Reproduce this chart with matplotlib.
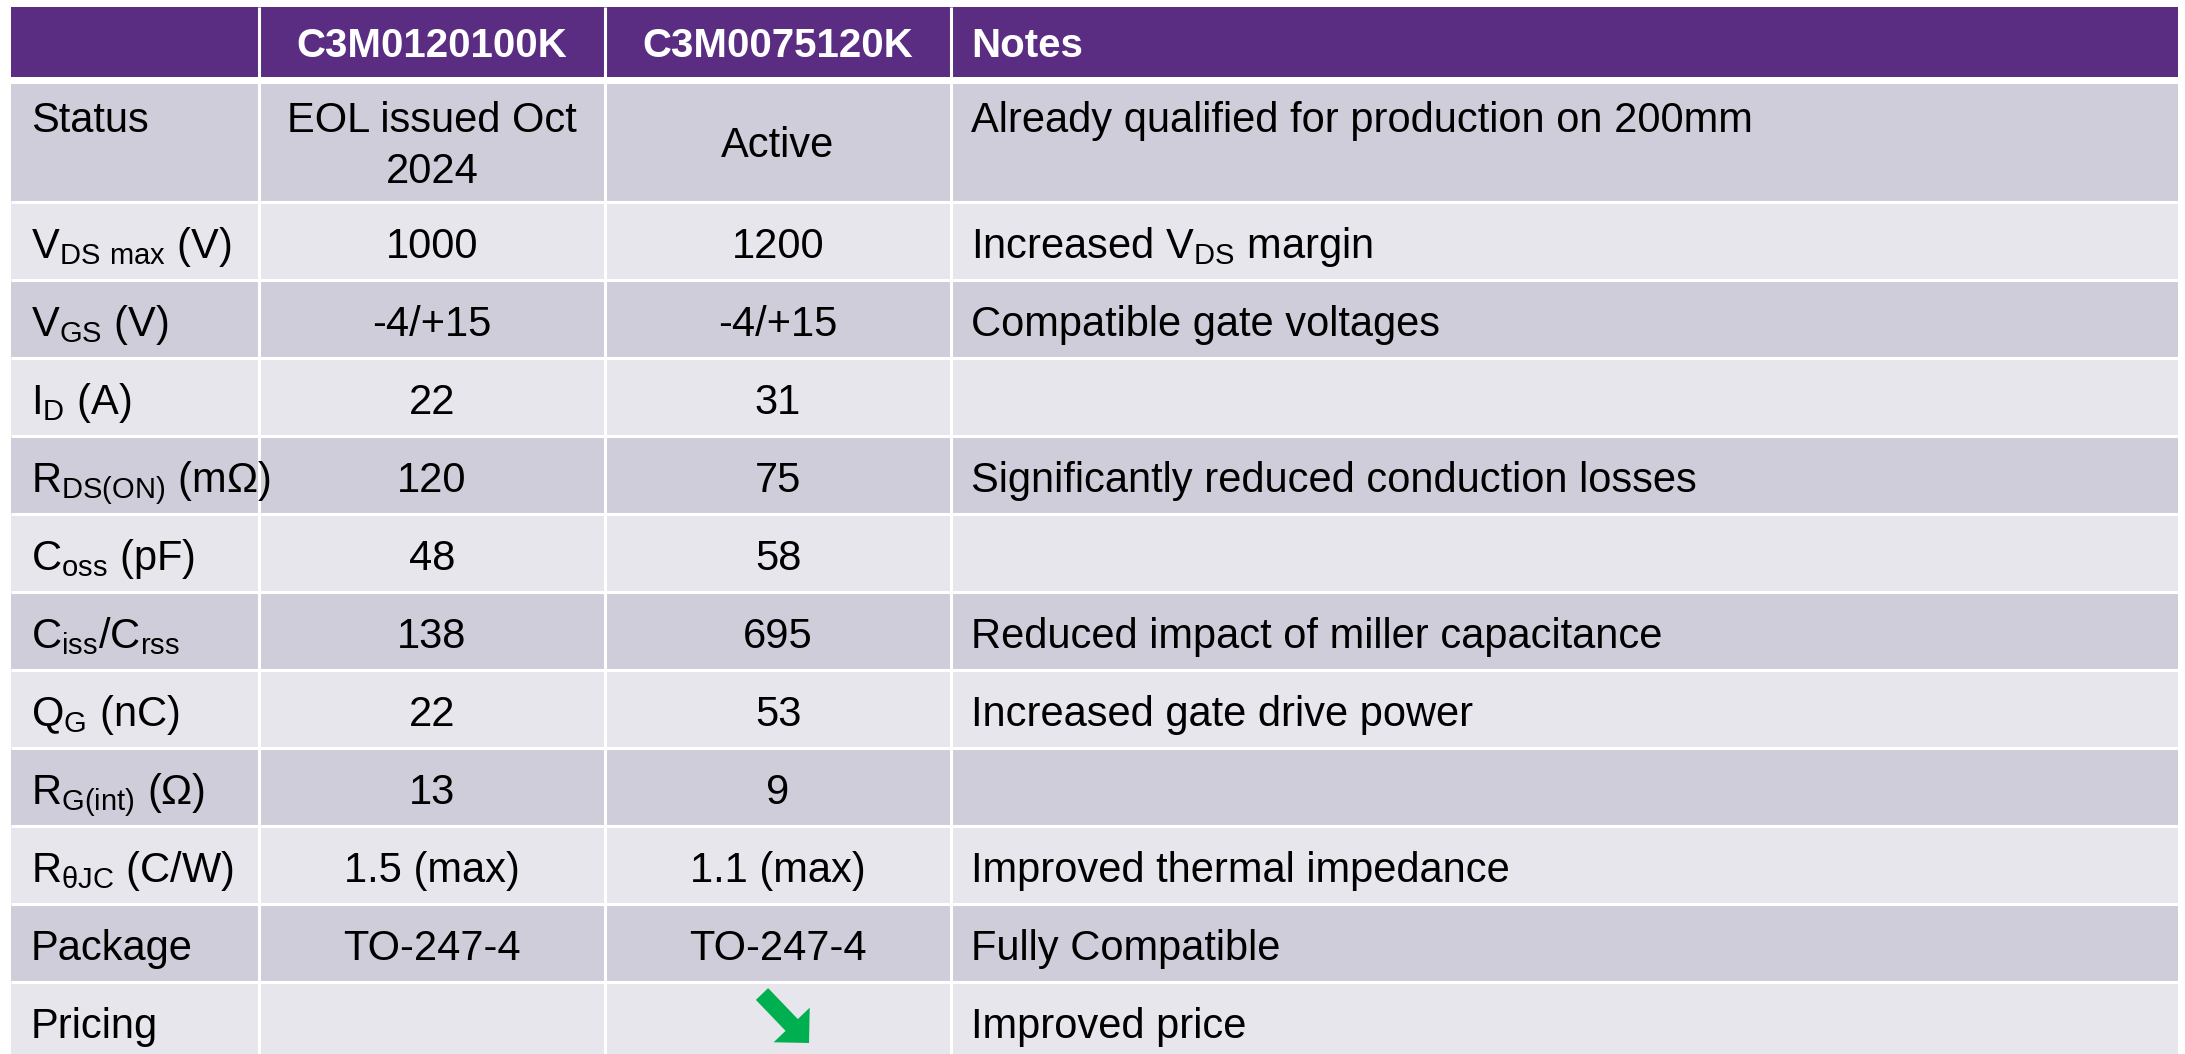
import matplotlib
matplotlib.use('Agg')
from matplotlib import pyplot as plt
from matplotlib.patches import Rectangle

plt.rcParams['font.family'] = ['Liberation Sans Narrow', 'Liberation Sans', 'DejaVu Sans']

# table content
headers = ['', 'C3M0120100K', 'C3M0075120K', 'Notes']
params = ['Status',
          r'$\mathregular{V_{DS\ max}}$ (V)',
          r'$\mathregular{V_{GS}}$ (V)',
          r'$\mathregular{I_{D}}$ (A)',
          r'$\mathregular{R_{DS(ON)}}$ (mΩ)',
          r'$\mathregular{C_{oss}}$ (pF)',
          r'$\mathregular{C_{iss}/C_{rss}}$',
          r'$\mathregular{Q_{G}}$ (nC)',
          r'$\mathregular{R_{G(int)}}$ (Ω)',
          r'$\mathregular{R_{θJC}}$ (C/W)',
          'Package',
          'Pricing']
old_part = ['EOL issued Oct\n2024', '1000', '-4/+15', '22', '120', '48', '138',
            '22', '13', '1.5 (max)', 'TO-247-4', '']
new_part = ['Active', '1200', '-4/+15', '31', '75', '58', '695',
            '53', '9', '1.1 (max)', 'TO-247-4', '']
notes = ['Already qualified for production on 200mm',
         r'Increased $\mathregular{V_{DS}}$ margin',
         'Compatible gate voltages',
         '',
         'Significantly reduced conduction losses',
         '',
         'Reduced impact of miller capacitance',
         'Increased gate drive power',
         '',
         'Improved thermal impedance',
         'Fully Compatible',
         'Improved price']
price_down = [False, True]  # green arrow for the new part

# layout (pixels)
W, H = 2185, 1054
col_x = [11, 259, 605, 951, 2178]
head_top, head_bot = 7, 77
row_h = [118] + [78] * 11
body_top = 84
purple = '#5A2D82'
dark = '#D0CDDA'
light = '#E8E6ED'
fs = 30

fig = plt.figure(figsize=(W / 100, H / 100), dpi=100)
ax = fig.add_axes([0, 0, 1, 1])
ax.set_xlim(0, W)
ax.set_ylim(H, 0)
ax.axis('off')

# header
ax.add_patch(Rectangle((col_x[0], head_top), col_x[-1] - col_x[0], head_bot - head_top,
                       color=purple, lw=0))
for j, h in enumerate(headers):
    if j == 3:
        ax.text(col_x[3] + 20, 57, h, color='white', fontsize=29, fontweight='bold',
                ha='left', va='baseline')
    elif h:
        ax.text((col_x[j] + col_x[j + 1]) / 2, 57, h, color='white', fontsize=29,
                fontweight='bold', ha='center', va='baseline')

# body
y = body_top
row_tops = []
for i in range(len(params)):
    row_tops.append(y)
    ax.add_patch(Rectangle((col_x[0], y), col_x[-1] - col_x[0], row_h[i],
                           color=dark if i % 2 == 0 else light, lw=0))
    y += row_h[i]
ax.hlines(row_tops[1:], col_x[0], col_x[-1], color='white', lw=2.2)
ax.vlines(col_x[1:4], head_top, y, color='white', lw=2.2)

for i in range(len(params)):
    top = row_tops[i]
    base = top + 48 if i == 0 else top + 56
    ax.text(col_x[0] + 20, base, params[i], fontsize=fs, ha='left', va='baseline')
    ax.text(col_x[3] + 20, base, notes[i], fontsize=fs, ha='left', va='baseline')
    c1 = (col_x[1] + col_x[2]) / 2
    c2 = (col_x[2] + col_x[3]) / 2
    if i == 0:
        lines = old_part[i].split('\n')
        for k, ln in enumerate(lines):
            ax.text(c1, base + 51 * k, ln, fontsize=fs, ha='center', va='baseline')
        ax.text(c2, top + 73, new_part[i], fontsize=fs, ha='center', va='baseline')
    else:
        ax.text(c1, base, old_part[i], fontsize=fs, ha='center', va='baseline')
        ax.text(c2, base, new_part[i], fontsize=fs, ha='center', va='baseline')

# pricing arrow
for k, flag in enumerate(price_down):
    if flag:
        cx = (col_x[k + 1] + col_x[k + 2]) / 2
        top = row_tops[-1]
        ax.arrow(cx - 16, top + 12, 47, 49, width=17, head_width=50, head_length=25,
                 length_includes_head=True, color='#00B050', lw=0)

fig.savefig('out.png', dpi=100)
